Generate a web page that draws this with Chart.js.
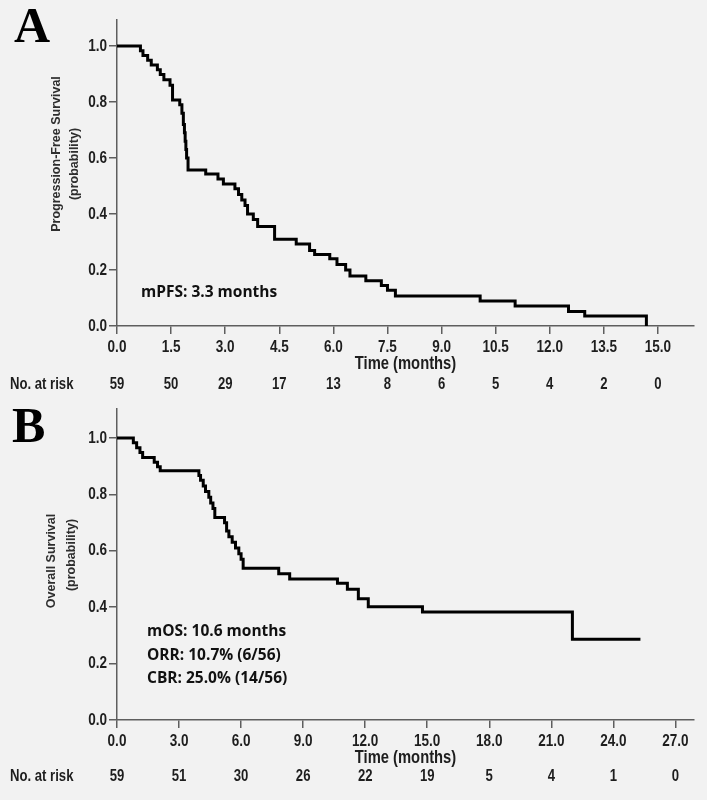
<!DOCTYPE html>
<html>
<head>
<meta charset="utf-8">
<script src="https://cdn.jsdelivr.net/npm/chart.js@4.4.0/dist/chart.umd.min.js"></script>
<style>
  html, body { margin: 0; padding: 0; background: #f2f2f2; }
  #wrap { position: relative; width: 707px; height: 800px; background: #f2f2f2; }
  canvas { position: absolute; left: 0; }
  #pfsChart { top: 0; }
  #osChart { top: 395px; }
</style>
</head>
<body>
<div id="wrap">
  <canvas id="pfsChart" width="707" height="395"></canvas>
  <canvas id="osChart" width="707" height="405"></canvas>
</div>
<script>
// Panel A: progression-free survival (Kaplan-Meier steps)
const pfsTime = [0, 0.65, 0.72, 0.85, 0.95, 1.12, 1.2, 1.3, 1.47, 1.54, 1.74, 1.8, 1.84, 1.87, 1.89, 1.91, 1.93, 1.97,
  2.46, 2.8, 2.95, 3.27, 3.37, 3.46, 3.55, 3.62, 3.78, 3.9, 4.37, 4.97, 5.34, 5.48, 5.9, 6.1, 6.34, 6.46,
  6.9, 7.33, 7.5, 7.72, 10.07, 11.04, 12.52, 12.97, 14.68];
const pfsProb = [1.0, 0.983, 0.966, 0.949, 0.932, 0.915, 0.898, 0.88, 0.86, 0.807, 0.79, 0.76, 0.72, 0.69, 0.66, 0.63, 0.6, 0.557,
  0.543, 0.525, 0.507, 0.49, 0.47, 0.45, 0.43, 0.4, 0.38, 0.355, 0.31, 0.293, 0.27, 0.255, 0.24, 0.22, 0.2, 0.179,
  0.162, 0.145, 0.128, 0.107, 0.089, 0.071, 0.052, 0.036, 0.0];
const pfsTicks = [0, 1.5, 3, 4.5, 6, 7.5, 9, 10.5, 12, 13.5, 15];
const pfsAtRisk = [59, 50, 29, 17, 13, 8, 6, 5, 4, 2, 0];

// Panel B: overall survival
const osTime = [0, 0.79, 0.95, 1.11, 1.24, 1.8, 1.96, 2.09, 3.96, 4.04, 4.17, 4.28, 4.44, 4.53, 4.64, 4.73,
  5.2, 5.3, 5.41, 5.57, 5.73, 5.89, 6.0, 6.1, 7.82, 8.35, 10.66, 11.14, 11.67, 12.15, 14.77, 22.02, 25.31];
const osProb = [1.0, 0.983, 0.966, 0.949, 0.931, 0.914, 0.898, 0.884, 0.867, 0.85, 0.83, 0.81, 0.79, 0.77, 0.75, 0.718,
  0.7, 0.67, 0.65, 0.63, 0.61, 0.59, 0.57, 0.538, 0.519, 0.5, 0.485, 0.464, 0.43, 0.402, 0.383, 0.286, 0.286];
const osTicks = [0, 3, 6, 9, 12, 15, 18, 21, 24, 27];
const osAtRisk = [59, 51, 30, 26, 22, 19, 5, 4, 1, 0];

const probTicks = [0, 0.2, 0.4, 0.6, 0.8, 1.0];

const SANS = '"Liberation Sans", Arial, sans-serif';
const AXIS_COLOR = '#5e5e5e';

// text squeezed sideways, to look like Arial Narrow
function narrow(ctx, text, x, y, align, size) {
  const k = 0.82;
  ctx.save();
  ctx.font = 'bold ' + size + 'px ' + SANS;
  ctx.textBaseline = 'middle';
  ctx.translate(x, y);
  ctx.scale(k, 1);
  const w = ctx.measureText(text).width;
  let dx = 0;
  if (align === 'center') dx = -w / 2;
  if (align === 'right') dx = -w;
  ctx.textAlign = 'left';
  ctx.fillText(text, dx, 0);
  ctx.restore();
}

// tick labels, panel letter, axis titles, annotations and the at-risk row
const panelText = {
  id: 'panelText',
  afterDraw(chart, args, o) {
    const ctx = chart.ctx;
    const xs = chart.scales.x;
    const ys = chart.scales.y;
    ctx.save();

    // panel letter
    ctx.fillStyle = '#000';
    ctx.textBaseline = 'alphabetic';
    ctx.textAlign = 'left';
    ctx.font = 'bold 50px "Liberation Serif", "Times New Roman", serif';
    ctx.fillText(o.letter, o.letterX, o.letterY);

    // tick labels
    ctx.fillStyle = '#1e1e1e';
    o.xTicks.forEach(v => narrow(ctx, v.toFixed(1), xs.getPixelForValue(v), xs.top + 21, 'center', 16.5));
    probTicks.forEach(v => narrow(ctx, v.toFixed(1), ys.left + ys.width - 10, ys.getPixelForValue(v), 'right', 16.5));

    // x title
    narrow(ctx, 'Time (months)', (xs.left + xs.right) / 2, xs.top + 38.5, 'center', 18);

    // y title, two rotated lines
    ctx.fillStyle = '#2e2e2e';
    ctx.font = 'bold 12.5px ' + SANS;
    ctx.textAlign = 'center';
    ctx.textBaseline = 'middle';
    o.yTitle.forEach((line, i) => {
      ctx.save();
      ctx.translate(o.yTitleX[i], o.yTitleY[i]);
      ctx.rotate(-Math.PI / 2);
      ctx.fillText(line, 0, 0);
      ctx.restore();
    });

    // annotation
    ctx.fillStyle = '#111';
    ctx.textAlign = 'left';
    ctx.font = 'bold 15.5px "Open Sans", "Noto Sans", sans-serif';
    o.notes.forEach((t, i) => ctx.fillText(t, o.noteX, o.noteY + i * 23.3));

    // number at risk
    ctx.fillStyle = '#1e1e1e';
    narrow(ctx, 'No. at risk', 10, o.riskY, 'left', 16);
    o.xTicks.forEach((t, i) => narrow(ctx, String(o.risk[i]), xs.getPixelForValue(t), o.riskY, 'center', 16));
    ctx.restore();
  }
};

function kmChart(id, time, prob, xTicks, xMax, yMax, padTop, canvasH, plotBottom, textOpts) {
  textOpts.xTicks = xTicks;
  return new Chart(document.getElementById(id), {
    type: 'line',
    data: {
      datasets: [{
        data: time.map((t, i) => ({ x: t, y: prob[i] })),
        stepped: 'before',
        borderColor: '#000',
        borderWidth: 3,
        borderCapStyle: 'butt',
        borderJoinStyle: 'miter',
        pointRadius: 0,
        fill: false,
        clip: false
      }]
    },
    options: {
      responsive: false,
      animation: false,
      layout: { padding: { top: padTop, right: 13, left: 0, bottom: 0 } },
      plugins: {
        legend: { display: false },
        tooltip: { enabled: false },
        panelText: textOpts
      },
      scales: {
        x: {
          type: 'linear',
          min: 0,
          max: xMax,
          afterBuildTicks: (s) => { s.ticks = xTicks.map(v => ({ value: v })); },
          afterFit: (s) => { s.height = canvasH - plotBottom; },
          ticks: { display: false },
          grid: { drawOnChartArea: false, drawTicks: true, tickLength: 8, color: AXIS_COLOR, lineWidth: 1.5 },
          border: { display: true, color: AXIS_COLOR, width: 1.5 }
        },
        y: {
          min: 0,
          max: yMax,
          afterBuildTicks: (s) => { s.ticks = probTicks.map(v => ({ value: v })); },
          afterFit: (s) => { s.width = 117; },
          ticks: { display: false },
          grid: { drawOnChartArea: false, drawTicks: true, tickLength: 8, color: AXIS_COLOR, lineWidth: 1.5 },
          border: { display: true, color: AXIS_COLOR, width: 1.5 }
        }
      }
    },
    plugins: [panelText]
  });
}

kmChart('pfsChart', pfsTime, pfsProb, pfsTicks, 16, 1.093, 20, 395, 326, {
  letter: 'A', letterX: 14, letterY: 42,
  yTitle: ['Progression-Free Survival', '(probability)'],
  yTitleX: [57, 75], yTitleY: [154, 164],
  notes: ['mPFS: 3.3 months'], noteX: 141, noteY: 293,
  risk: pfsAtRisk, riskY: 385
});

kmChart('osChart', osTime, osProb, osTicks, 27.9, 1.103, 14, 405, 325, {
  letter: 'B', letterX: 12, letterY: 47,
  yTitle: ['Overall Survival', '(probability)'],
  yTitleX: [52, 72], yTitleY: [166, 160],
  notes: ['mOS: 10.6 months', 'ORR: 10.7% (6/56)', 'CBR: 25.0% (14/56)'], noteX: 147, noteY: 237,
  risk: osAtRisk, riskY: 382
});
</script>
</body>
</html>
